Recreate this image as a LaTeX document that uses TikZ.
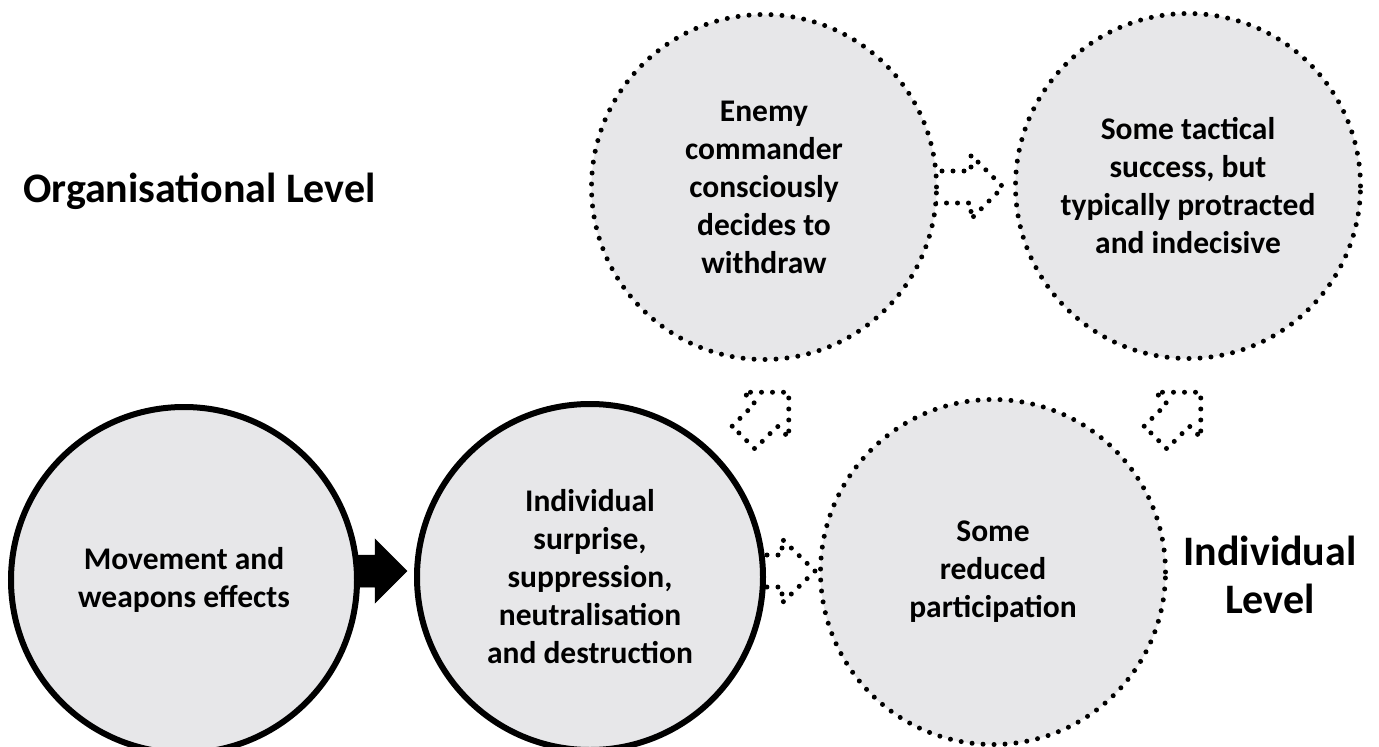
\documentclass[tikz,border=0pt]{standalone}
\usepackage{fontspec}
\setmainfont{Carlito}
\definecolor{circfill}{RGB}{231,231,233}
\begin{document}
\begin{tikzpicture}[x=1pt,y=-1pt,
  dotline/.style={line width=5pt, dash pattern=on 0pt off 11pt, line cap=round},
  circtext/.style={font={\fontsize{31.5}{38}\selectfont\bfseries}, align=center, text=black},
  solidcirc/.style={circle, draw=black, line width=6pt, fill=circfill, minimum size=346pt, inner sep=0pt, circtext},
  dotcirc/.style={circle, draw=black, dotline, fill=circfill, minimum size=345pt, inner sep=0pt, circtext},
  leveltext/.style={font={\fontsize{42}{48}\selectfont\bfseries}, align=center, text=black},
  blockdot/.style={draw=black, dotline, fill=none},
  blocksolid/.style={draw=black, fill=black, line width=0.5pt}
]
\useasboundingbox (0,0) rectangle (1379,747);
\clip (0,0) rectangle (1379,747);

% block arrows (drawn first, circles cover their tails)
\draw[blocksolid] (345,555) -- (375,555) -- (375,539) -- (407,571) -- (375,603) -- (375,587) -- (345,587) -- cycle;
\draw[blockdot] (745,555) -- (782,555) -- (782,539) -- (815,571) -- (782,603) -- (782,587) -- (745,587) -- cycle;
\draw[blockdot] (920,171) -- (971,171) -- (971,155) -- (1003,187) -- (971,219) -- (971,203) -- (920,203) -- cycle;
\begin{scope}[shift={(743.5,437.5)}, rotate=45]
  \draw[blockdot] (0,-16) -- (32,-16) -- (32,-32) -- (64,0) -- (32,32) -- (32,16) -- (0,16) -- cycle;
\end{scope}
\begin{scope}[shift={(1155.5,437.5)}, rotate=45]
  \draw[blockdot] (0,-16) -- (32,-16) -- (32,-32) -- (64,0) -- (32,32) -- (32,16) -- (0,16) -- cycle;
\end{scope}

% circles
\node[solidcirc] (move) at (184,580) {Movement and\\weapons effects};
\node[solidcirc] (indiv) at (590,577) {Individual\\surprise,\\suppression,\\neutralisation\\and destruction};
\node[dotcirc] (reduced) at (993,572) {Some\\reduced\\participation};
\node[dotcirc] (enemy) at (764,187) {Enemy\\commander\\consciously\\decides to\\withdraw};
\node[dotcirc] (tactical) at (1188,186) {Some tactical\\success, but\\typically protracted\\and indecisive};

% level labels
\node[leveltext, anchor=base west, inner sep=0pt] (orglevel) at (23,202) {Organisational Level};
\node[leveltext, inner sep=0pt] (indlevel) at (1270,575) {Individual\\Level};
\end{tikzpicture}
\end{document}
